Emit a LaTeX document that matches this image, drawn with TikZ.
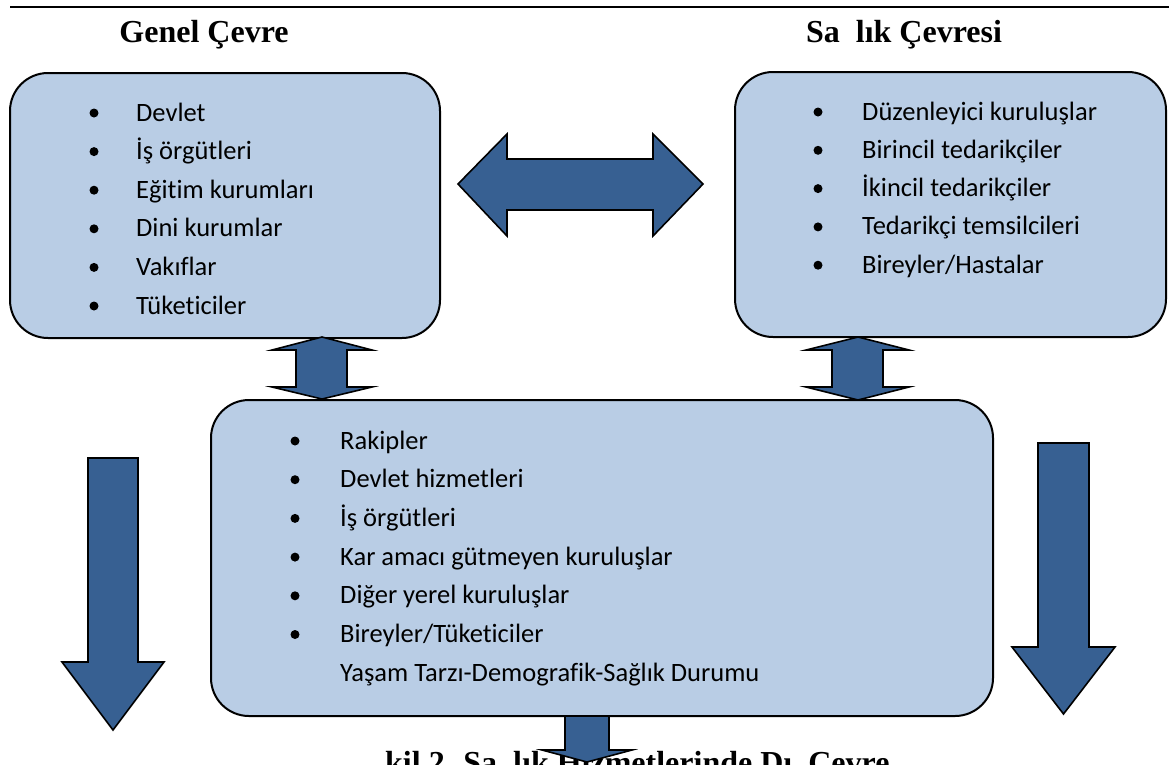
\documentclass[tikz,border=0pt]{standalone}
\usepackage{fontspec}
\setmainfont{Liberation Serif}
\newfontfamily\calfont[Ligatures={NoCommon,NoDiscretionary,NoRare,NoContextual}]{Carlito}
\definecolor{boxfill}{HTML}{B9CDE5}
\definecolor{arrfill}{HTML}{376092}
\begin{document}
\begin{tikzpicture}[x=1pt,y=-1pt,
  box/.style={draw=black, line width=2pt, fill=boxfill, rounded corners=38pt, inner sep=0pt},
  blockarrow/.style={draw=black, line width=1.6pt, fill=arrfill, line join=miter},
  item/.style={anchor=base west, inner sep=0pt, font=\calfont\fontsize{26.5}{30}\selectfont},
  bul/.style={fill=black},
  ttl/.style={anchor=base, inner sep=0pt, font=\fontsize{32}{36}\selectfont\bfseries}]
\useasboundingbox (0,0) rectangle (1169,764);
\clip (0,0) rectangle (1169,764);
% top rule
\draw[line width=2pt] (10,7) -- (1169,7);
% titles
\node[ttl] (t1) at (204,42) {Genel Çevre};
\node[ttl] (t2) at (904,42) {Sa\ \ lık Çevresi};
% boxes
\node[box, minimum width=430pt, minimum height=265pt] (gen) at (225,205.5) {};
\node[box, minimum width=431pt, minimum height=265pt] (sag) at (950.5,204.5) {};
\node[box, minimum width=782pt, minimum height=316pt] (yer) at (602,558) {};
% box 1 items
\foreach \t [count=\i from 0] in {Devlet,İş örgütleri,Eğitim kurumları,Dini kurumlar,Vakıflar,Tüketiciler}{
  \fill[bul] (94,121+38.6*\i-8) circle (4.5);
  \node[item] (g\i) at (136,121+38.6*\i) {\t};
}
% box 2 items
\foreach \t [count=\i from 0] in {Düzenleyici kuruluşlar,Birincil tedarikçiler,İkincil tedarikçiler,Tedarikçi temsilcileri,Bireyler/Hastalar}{
  \fill[bul] (818,120+38.3*\i-8) circle (4.5);
  \node[item] (s\i) at (862,120+38.3*\i) {\t};
}
% box 3 items
\foreach \t [count=\i from 0] in {Rakipler,Devlet hizmetleri,İş örgütleri,Kar amacı gütmeyen kuruluşlar,Diğer yerel kuruluşlar,Bireyler/Tüketiciler}{
  \fill[bul] (295,449+38.7*\i-8) circle (4.5);
  \node[item] (y\i) at (340,449+38.7*\i) {\t};
}
\node[item] (y6) at (340,681) {Yaşam Tarzı-Demografik-Sağlık Durumu};
% horizontal double arrow
\draw[blockarrow] (458,184) -- (507,134) -- (507,159) -- (653,159) -- (653,134) -- (703,184)
  -- (653,236) -- (653,210) -- (507,210) -- (507,236) -- cycle;
% left vertical double arrow
\draw[blockarrow] (322,337) -- (372,350) -- (347,350) -- (347,387) -- (372,387) -- (322,399)
  -- (272,387) -- (296,387) -- (296,350) -- (272,350) -- cycle;
% right vertical double arrow
\draw[blockarrow] (858,337) -- (909,350) -- (883,350) -- (883,387) -- (909,387) -- (858,400)
  -- (806,387) -- (832,387) -- (832,350) -- (806,350) -- cycle;
% left down arrow
\draw[blockarrow] (88,458) -- (138,458) -- (138,662) -- (164,662) -- (113,730) -- (62,662)
  -- (88,662) -- cycle;
% right down arrow
\draw[blockarrow] (1038,443) -- (1089,443) -- (1089,647) -- (1115,647) -- (1063.5,714)
  -- (1012,647) -- (1038,647) -- cycle;
% caption (cut by the page edge)
\node[ttl, anchor=base west] (cap) at (385,773) {kil 2. Sa\ \ lık Hizmetlerinde Dı\ \ Çevre};
% bottom arrow
\draw[blockarrow] (565,716) -- (609,716) -- (609,750) -- (632,750) -- (587,762) -- (542,750)
  -- (565,750) -- cycle;
\end{tikzpicture}
\end{document}
